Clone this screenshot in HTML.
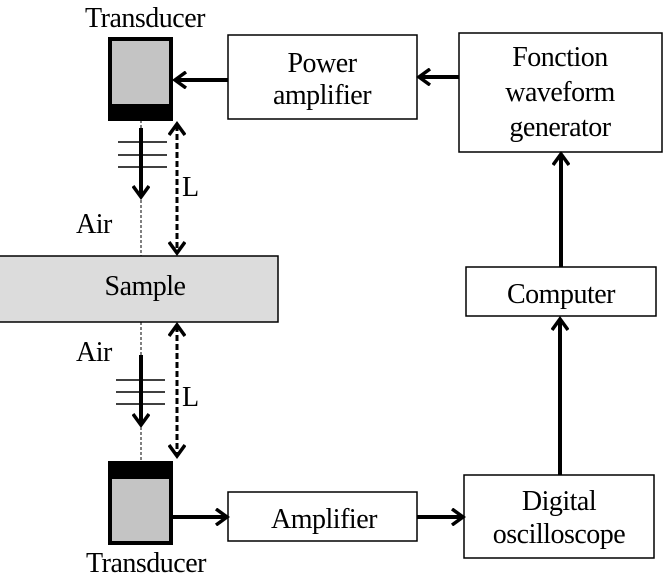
<!DOCTYPE html>
<html><head><style>
body{margin:0;background:#fff;}
svg text{font-family:"Liberation Serif",serif;font-size:28px;fill:#000;letter-spacing:-0.5px}
</style></head><body>
<svg width="664" height="581" viewBox="0 0 664 581" xmlns="http://www.w3.org/2000/svg">
<defs>
<marker id="ah2" markerWidth="18" markerHeight="18" refX="12" refY="9" orient="auto-start-reverse" markerUnits="userSpaceOnUse">
<path d="M2,1 L13,9 L2,17" fill="none" stroke="#000" stroke-width="3.5"/>
</marker>
</defs>
<text x="145" y="27" text-anchor="middle">Transducer</text>
<rect x="110" y="39" width="61" height="80" fill="#c4c4c4" stroke="#000" stroke-width="4"/>
<rect x="110" y="104" width="61" height="16" fill="#000"/>
<rect x="228" y="35" width="189" height="84" fill="#fff" stroke="#000" stroke-width="1.5"/>
<text x="322" y="72" text-anchor="middle">Power</text>
<text x="322" y="104" text-anchor="middle">amplifier</text>
<rect x="459" y="33" width="203" height="119" fill="#fff" stroke="#000" stroke-width="1.5"/>
<text x="560" y="66" text-anchor="middle">Fonction</text>
<text x="560" y="101" text-anchor="middle">waveform</text>
<text x="560" y="136" text-anchor="middle">generator</text>
<rect x="466" y="267" width="190" height="49" fill="#fff" stroke="#000" stroke-width="1.5"/>
<text x="561" y="303" text-anchor="middle">Computer</text>
<rect x="-2" y="256" width="280" height="66" fill="#dcdcdc" stroke="#000" stroke-width="1.5"/>
<text x="145" y="295" text-anchor="middle">Sample</text>
<rect x="228" y="492" width="189" height="49" fill="#fff" stroke="#000" stroke-width="1.5"/>
<text x="324" y="528" text-anchor="middle">Amplifier</text>
<rect x="464" y="475" width="190" height="83" fill="#fff" stroke="#000" stroke-width="1.5"/>
<text x="559" y="510" text-anchor="middle">Digital</text>
<text x="559" y="543" text-anchor="middle">oscilloscope</text>
<rect x="110" y="463" width="61" height="80" fill="#c4c4c4" stroke="#000" stroke-width="4"/>
<rect x="110" y="462" width="61" height="17" fill="#000"/>
<text x="146" y="572" text-anchor="middle">Transducer</text>
<line x1="459" y1="77" x2="420" y2="77" stroke="#000" stroke-width="4" marker-end="url(#ah2)"/>
<line x1="228" y1="80" x2="176" y2="80" stroke="#000" stroke-width="4" marker-end="url(#ah2)"/>
<line x1="561" y1="267" x2="561" y2="155" stroke="#000" stroke-width="4" marker-end="url(#ah2)"/>
<line x1="560" y1="475" x2="560" y2="320" stroke="#000" stroke-width="4" marker-end="url(#ah2)"/>
<line x1="173" y1="517" x2="226" y2="517" stroke="#000" stroke-width="4" marker-end="url(#ah2)"/>
<line x1="417" y1="517" x2="462" y2="517" stroke="#000" stroke-width="4" marker-end="url(#ah2)"/>
<line x1="141" y1="120" x2="141" y2="256" stroke="#000" stroke-width="1" stroke-dasharray="3,2"/>
<line x1="141" y1="128" x2="141" y2="196" stroke="#000" stroke-width="4" marker-end="url(#ah2)"/>
<line x1="118" y1="142" x2="167" y2="142" stroke="#000" stroke-width="1.5"/>
<line x1="118" y1="155" x2="167" y2="155" stroke="#000" stroke-width="1.5"/>
<line x1="118" y1="167" x2="167" y2="167" stroke="#000" stroke-width="1.5"/>
<line x1="177" y1="125" x2="177" y2="252" stroke="#000" stroke-width="3" stroke-dasharray="6,3" marker-start="url(#ah2)" marker-end="url(#ah2)"/>
<text x="182" y="196">L</text>
<text x="76" y="233">Air</text>
<line x1="141" y1="322" x2="141" y2="462" stroke="#000" stroke-width="1" stroke-dasharray="3,2"/>
<line x1="141" y1="355" x2="141" y2="424" stroke="#000" stroke-width="4" marker-end="url(#ah2)"/>
<line x1="116" y1="380" x2="165" y2="380" stroke="#000" stroke-width="1.5"/>
<line x1="116" y1="392" x2="165" y2="392" stroke="#000" stroke-width="1.5"/>
<line x1="116" y1="404" x2="165" y2="404" stroke="#000" stroke-width="1.5"/>
<line x1="177" y1="326" x2="177" y2="455" stroke="#000" stroke-width="3" stroke-dasharray="6,3" marker-start="url(#ah2)" marker-end="url(#ah2)"/>
<text x="182" y="406">L</text>
<text x="76" y="361">Air</text>
</svg>
</body></html>
